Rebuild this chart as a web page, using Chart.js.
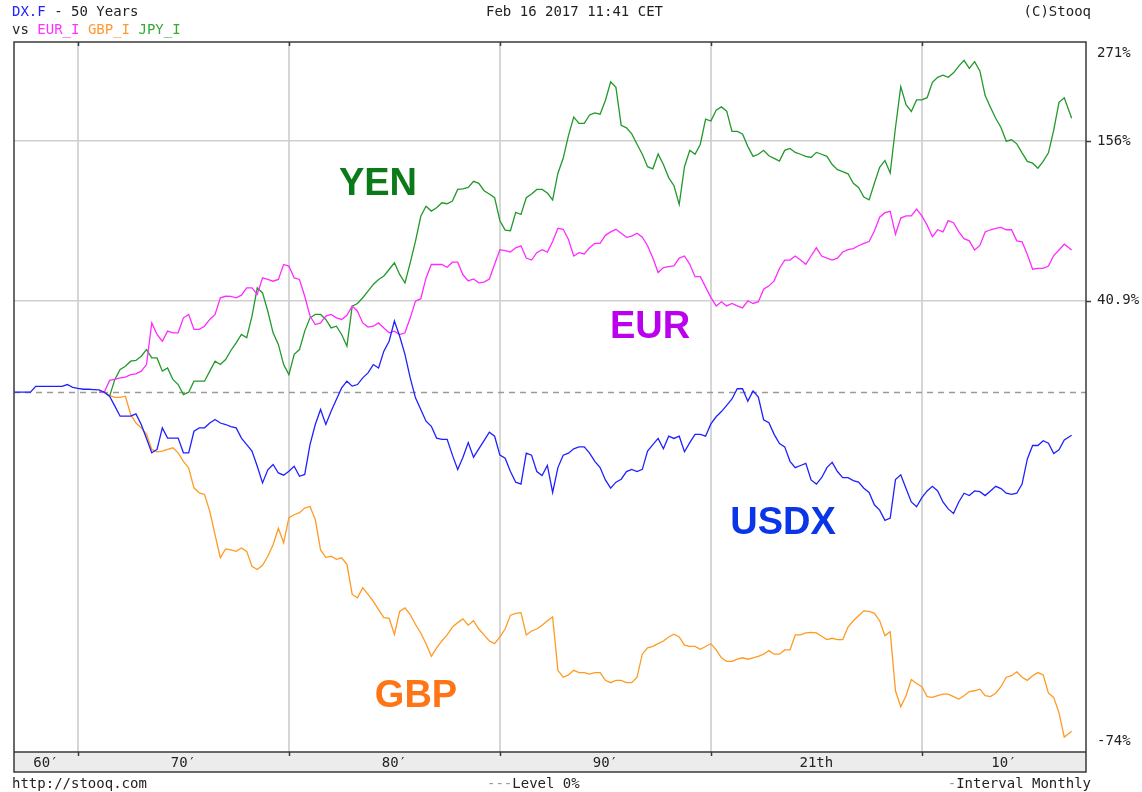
<!DOCTYPE html>
<html>
<head>
<meta charset="utf-8">
<script src="https://cdn.jsdelivr.net/npm/chart.js@4.4.1/dist/chart.umd.min.js"></script>
<style>
  body { margin: 0; background: #fff; }
  #wrap { position: relative; width: 1142px; height: 792px; font-family: "DejaVu Sans Mono", monospace; font-size: 14px; color: #222; }
  canvas { position: absolute; left: 0; top: 0; }
  .t { position: absolute; white-space: pre; line-height: 16px; }
  .big { position: absolute; font-family: "Liberation Sans", Arial, sans-serif; font-weight: bold; font-size: 38px; transform: translate(-50%, -50%); white-space: nowrap; }
</style>
</head>
<body>
<div id="wrap">
  <canvas id="grafico" width="1142" height="792"></canvas>

  <div class="t" style="left:12px;top:3px"><span style="color:#2222ff">DX.F</span> - 50 Years</div>
  <div class="t" style="left:12px;top:21px">vs <span style="color:#ff33ff">EUR_I</span> <span style="color:#ff9933">GBP_I</span> <span style="color:#33aa33">JPY_I</span></div>
  <div class="t" style="left:486px;top:3px">Feb 16 2017 11:41 CET</div>
  <div class="t" style="right:51px;top:3px">(C)Stooq</div>

  <div class="t" style="left:12px;top:775px">http://stooq.com</div>
  <div class="t" style="left:487px;top:775px"><span style="color:#999">---</span>Level 0%</div>
  <div class="t" style="right:51px;top:775px"><span style="color:#999">-</span>Interval Monthly</div>

  <div class="big" style="left:378px;top:182px;color:#0b7a18">YEN</div>
  <div class="big" style="left:650px;top:325px;color:#bb00ee">EUR</div>
  <div class="big" style="left:783px;top:521px;color:#0a36e8">USDX</div>
  <div class="big" style="left:416px;top:694px;color:#ff7415">GBP</div>
</div>

<script>
// datas: trimestres de 1967 a 2016 + ultimo ponto (fev/2017)
let anos = [];
for (let i = 0; i < 200; i++) anos.push(1967 + i / 4);
anos.push(2017.1);

// variacao em % desde o inicio (uma linha = um ano, 4 trimestres)
let usdx = [
  0, 0, 0, 0,
  2.2, 2.2, 2.2, 2.2,
  2.2, 2.2, 2.9, 1.8,
  1.4, 1.1, 1.1, 1.0,
  0.9, 0, -1.5, -5.1,
  -8.6, -8.6, -8.6, -7.8,
  -11.4, -15.9, -20.3, -19.3,
  -12.5, -15.8, -15.8, -15.8,
  -20.3, -20.3, -13.6, -12.5,
  -12.5, -10.9, -9.7, -10.9,
  -11.4, -12.1, -12.5, -15.8,
  -17.8, -19.8, -24.2, -28.8,
  -25.2, -23.7, -26.1, -26.7,
  -25.6, -24.2, -27, -26.5,
  -17.8, -11.4, -6.3, -11.4,
  -6.9, -2.7, 1.6, 4.2,
  2.3, 2.9, 5.5, 7.5,
  10.9, 9.5, 16.6, 21,
  30.5, 23.3, 15.2, 5.5,
  -2.1, -6.3, -10.3, -12,
  -15.8, -16.2, -16.2, -21,
  -25.1, -21.6, -17.2, -21.6,
  -19.1, -16.6, -13.9, -15.2,
  -21, -21.9, -25.7, -28.6,
  -29.1, -20.4, -21, -25.7,
  -26.8, -24.0, -31.3, -24.6,
  -21, -20.4, -19.1, -18.5,
  -18.5, -20.4, -22.8, -24.6,
  -28, -30.2, -28.6, -27.8,
  -25.7, -25.1, -25.7, -25.1,
  -19.8, -17.8, -15.9, -19.1,
  -15.2, -15.9, -15.2, -20,
  -17.2, -14.6, -14.6, -15.2,
  -11.2, -8.8, -7, -4.8,
  -2.5, 1.3, 1.3, -3.3,
  0.5, -1.8, -9.8, -10.8,
  -14.6, -17.5, -18.5, -22.8,
  -24.6, -24, -23.4, -28,
  -29.1, -27.4, -24.6, -23.1,
  -25.7, -27.4, -27.4, -28.2,
  -28.6, -30.2, -31.3, -34.4,
  -35.7, -38.1, -37.6, -27.9,
  -26.6, -30.3, -33.7, -34.9,
  -32.6, -30.9, -29.7, -30.9,
  -33.7, -35.4, -36.5, -33.7,
  -31.5, -32.1, -30.9, -31.1,
  -32.1, -30.9, -29.7, -30.3,
  -31.5, -31.8, -31.5, -29.1,
  -22.1, -18.1, -18.1, -16.6,
  -17.4, -20.5, -19.4, -16.4,
  -14.9,
];

let eur = [
  null, null, null, null,
  null, null, null, null,
  null, null, null, null,
  null, null, null, null,
  0, 0, 4.5, 4.9,
  5.5, 5.8, 6.8, 7.1,
  8.2, 10.9, 29.6, 24.1,
  21, 25.7, 24.9, 24.9,
  32.1, 33.8, 26.5, 26.5,
  28, 31.3, 33.8, 42.4,
  43.2, 43.1, 42.4, 43.8,
  47.8, 47.8, 44.2, 53.4,
  52.5, 51.5, 52.5, 61.3,
  60.3, 53.4, 52.5, 43.2,
  33, 28.8, 29.6, 33,
  33.8, 32.1, 31.3, 33.4,
  38, 35.4, 29.6, 27.6,
  28, 29.6, 27.2, 24.9,
  25.7, 24.1, 24.9, 32.1,
  40.6, 41.9, 53.4, 61.3,
  61.3, 61.3, 59.6, 62.7,
  62.7, 55.2, 51.7, 52.8,
  50.6, 51, 52.8, 61.4,
  70.5, 69.9, 69, 71.7,
  73, 65.2, 64, 68.6,
  70.5, 69, 75.8, 84.7,
  84, 77.1, 66.5, 68.6,
  67.8, 71.7, 74.5, 74.5,
  79.9, 82.2, 84, 81.3,
  78.6, 79.4, 81.3, 78.6,
  73, 65.2, 56.5, 59.4,
  60, 60.4, 65.2, 66.5,
  61.4, 54.1, 54.1, 48.2,
  42.6, 38.1, 40.3, 38.1,
  39.4, 38.1, 37.1, 40.8,
  39.4, 40.3, 47, 48.9,
  51.7, 58.9, 64, 64,
  66.5, 64, 61.4, 66.5,
  71.7, 66.5, 65.2, 64,
  65.2, 69, 70.5, 71.2,
  73, 74.5, 75.8, 82.8,
  92.5, 95.8, 96.8, 80.6,
  91.9, 93.5, 93.5, 98.5,
  93.5, 86.9, 79, 83.7,
  82.2, 90.1, 88.6, 82.2,
  77.7, 76.2, 70.3, 73.2,
  82.2, 83.7, 84.6, 85.3,
  83.7, 83.7, 76.2, 75.6,
  67.4, 58.5, 59, 59,
  60.4, 66.8, 70.3, 74,
  70.3,
];

let gbp = [
  null, null, null, null,
  null, null, null, null,
  null, null, null, null,
  null, null, null, null,
  0, 0, -1.2, -1.9,
  -1.9, -1.5, -8, -10.9,
  -12.5, -14.5, -19.3, -20,
  -19.8, -19.3, -18.8, -20.3,
  -22.8, -24.7, -30.1, -31.4,
  -31.8, -36, -41.4, -46.2,
  -44.4, -44.6, -44.9, -44.2,
  -44.9, -47.9, -48.5, -47.7,
  -45.9, -43.5, -39.9, -43.1,
  -37.5, -36.8, -36.3, -35.2,
  -34.8, -37.9, -44.6, -46.1,
  -45.9, -46.5, -46.2, -47.5,
  -53.1, -53.7, -51.9, -53.1,
  -54.3, -55.7, -57, -57.1,
  -59.6, -56, -55.4, -56.5,
  -58.1, -59.4, -61, -62.8,
  -61.6, -60.6, -59.7, -58.5,
  -57.8, -57.2, -58.2, -57.5,
  -58.8, -59.7, -60.6, -61,
  -60, -58.8, -56.6, -56.3,
  -56.2, -59.7, -59.1, -58.8,
  -58.2, -57.5, -56.9, -64.7,
  -65.6, -65.3, -64.7, -65,
  -65, -65.2, -65, -65,
  -66, -66.3, -66, -66,
  -66.3, -66.3, -65.6, -62.5,
  -61.6, -61.4, -61, -60.6,
  -60, -59.6, -60, -61.2,
  -61.4, -61.4, -61.8, -61.4,
  -61, -61.9, -63, -63.5,
  -63.5, -63.2, -63, -63.2,
  -63, -62.8, -62.5, -62,
  -62.5, -62.5, -61.9, -61.9,
  -59.7, -59.7, -59.4, -59.3,
  -59.4, -59.9, -60.4, -60.2,
  -60.4, -60.4, -58.5, -57.5,
  -56.7, -55.9, -56, -56.3,
  -57.5, -59.8, -59.2, -67.3,
  -69.2, -67.9, -65.9, -66.4,
  -66.8, -68, -68.1, -67.9,
  -67.7, -67.7, -68, -68.3,
  -67.9, -67.4, -67.3, -67.1,
  -67.9, -68, -67.6, -66.8,
  -65.6, -65.4, -64.9, -65.6,
  -66, -65.4, -65, -65.3,
  -67.6, -68.1, -69.9, -72.5,
  -71.9,
];

let jpy = [
  null, null, null, null,
  null, null, null, null,
  null, null, null, null,
  null, null, null, null,
  0, 0, -1.5, 4.9,
  8.9, 10.2, 12.3, 12.6,
  14.4, 17.3, 13.7, 13.7,
  8.2, 9.5, 4.9, 2.9,
  -0.9, 0, 4.2, 4.2,
  4.2, 8.2, 12.3, 10.9,
  13, 16.9, 20.3, 24.1,
  22.6, 32.9, 47.8, 45,
  35.4, 24.9, 19.6, 10.9,
  6.8, 15.2, 17.3, 25.7,
  32.1, 33.8, 33.8, 31.3,
  27.2, 28, 24.1, 18.8,
  38, 39.4, 42.4, 46,
  49.7, 52.5, 54.5, 58.3,
  62.3, 55.4, 50.6, 62.3,
  76, 93.2, 100.6, 97,
  99.4, 103.2, 102.5, 104.5,
  113.6, 114.1, 115.2, 120.2,
  118.6, 112.6, 110, 107.1,
  90, 83.4, 83, 96,
  94.5, 107.1, 110, 113.6,
  113.6, 110.8, 105.4, 127,
  140, 161.3, 180, 173.5,
  173.5, 182.3, 184.5, 183.2,
  198, 219.7, 213, 171.5,
  169, 163, 153, 143.7,
  132.6, 130.8, 144, 134.5,
  123.3, 116.6, 102, 132.6,
  147.3, 143.7, 153, 178,
  176, 187.5, 191, 186.4,
  165.5, 165.5, 163, 151,
  141.8, 143.7, 147.3, 142.3,
  140, 137.6, 147.3, 149.1,
  145.4, 143.7, 141.8, 140.8,
  145.4, 143.7, 141.8, 134.5,
  130, 128.4, 126.5, 118.6,
  115.2, 107.6, 105.4, 118.6,
  132, 138.1, 127.2, 169.4,
  214, 193.4, 186, 198.7,
  198.7, 201.2, 219, 225,
  227.7, 225, 230.6, 239,
  246.3, 236, 244.6, 233,
  203.6, 190.6, 178.8, 169.4,
  156, 157.3, 153.4, 145,
  137.3, 135.7, 131.3, 137.3,
  145, 166.8, 196, 201,
  178.8,
];

// eixos
let decadas = [1970, 1980, 1990, 2000, 2010];
let meioDecadas = [1968.48, 1975, 1985, 1995, 2005, 2013.89];
let rotulosX = ["60\u2032", "70\u2032", "80\u2032", "90\u2032", "21th", "10\u2032"];
let valoresY = [271, 156, 40.9, -74];
let rotulosY = ["271%", "156%", "40.9%", "-74%"];
let linhasY = [156, 40.9];

const anoMin = 1966.97;
const anoMax = 2017.78;

function pontos(serie) {
  return anos.map((a, i) => ({ x: a, y: serie[i] == null ? null : 1 + serie[i] / 100 }));
}

const fonteMono = '14px "DejaVu Sans Mono", monospace';

const moldura = {
  id: "moldura",
  beforeDraw(chart) {
    const { ctx, chartArea: a } = chart;
    ctx.save();
    ctx.fillStyle = "#ececec";
    ctx.fillRect(a.left, a.bottom, a.right - a.left, 20);
    ctx.restore();
  },
  beforeDatasetsDraw(chart) {
    const { ctx, chartArea: a, scales } = chart;
    const y0 = Math.round(scales.y.getPixelForValue(1)) + 0.5;
    ctx.save();
    ctx.strokeStyle = "#9a9a9a";
    ctx.lineWidth = 1.5;
    ctx.setLineDash([6, 5]);
    ctx.beginPath();
    ctx.moveTo(a.left, y0);
    ctx.lineTo(a.right, y0);
    ctx.stroke();
    ctx.restore();
  },
  afterDraw(chart) {
    const { ctx, chartArea: a, scales } = chart;
    ctx.save();
    ctx.strokeStyle = "#3a3a3a";
    ctx.lineWidth = 1.5;
    ctx.strokeRect(a.left, a.top, a.right - a.left, a.bottom + 20 - a.top);
    ctx.beginPath();
    ctx.moveTo(a.left, a.bottom);
    ctx.lineTo(a.right, a.bottom);
    // marcas das decadas
    decadas.forEach((d) => {
      const px = Math.round(scales.x.getPixelForValue(d)) + 0.5;
      ctx.moveTo(px, a.bottom);
      ctx.lineTo(px, a.bottom + 4);
      ctx.moveTo(px, a.top);
      ctx.lineTo(px, a.top + 4);
    });
    // marcas do eixo y
    linhasY.forEach((v) => {
      const py = Math.round(scales.y.getPixelForValue(1 + v / 100)) + 0.5;
      ctx.moveTo(a.right, py);
      ctx.lineTo(a.right + 5, py);
    });
    ctx.stroke();

    ctx.font = fonteMono;
    ctx.fillStyle = "#222";
    ctx.textBaseline = "middle";
    ctx.textAlign = "left";
    valoresY.forEach((v, i) => {
      let py = scales.y.getPixelForValue(1 + v / 100);
      py = Math.min(Math.max(py, a.top + 11), a.bottom - 11);
      ctx.fillText(rotulosY[i], a.right + 11, py);
    });
    ctx.restore();
  },
};

const serieBase = { pointRadius: 0, borderWidth: 1.3, tension: 0, spanGaps: false, xAxisID: "x", yAxisID: "y" };

new Chart(document.getElementById("grafico"), {
  type: "line",
  data: {
    datasets: [
      { ...serieBase, label: "DX.F", data: pontos(usdx), borderColor: "#2020ff" },
      { ...serieBase, label: "EUR_I", data: pontos(eur), borderColor: "#ff2bff" },
      { ...serieBase, label: "GBP_I", data: pontos(gbp), borderColor: "#ff9a22" },
      { ...serieBase, label: "JPY_I", data: pontos(jpy), borderColor: "#22992a" },
    ],
  },
  options: {
    responsive: false,
    animation: false,
    layout: { padding: { left: 14, top: 42, right: 0, bottom: 20 } },
    plugins: { legend: { display: false }, tooltip: { enabled: false } },
    scales: {
      x: {
        type: "linear",
        position: "bottom",
        min: anoMin,
        max: anoMax,
        afterBuildTicks: (s) => { s.ticks = decadas.map((d) => ({ value: d })); },
        afterFit: (s) => { s.height = 0; },
        ticks: { display: false },
        grid: { color: "#d6d6d6", lineWidth: 2, drawTicks: false },
        border: { display: false },
      },
      xl: {
        type: "linear",
        position: "bottom",
        min: anoMin,
        max: anoMax,
        afterBuildTicks: (s) => { s.ticks = meioDecadas.map((d) => ({ value: d })); },
        afterFit: (s) => { s.height = 20; },
        ticks: {
          autoSkip: false,
          maxRotation: 0,
          padding: 3,
          color: "#222",
          font: { family: "DejaVu Sans Mono", size: 14 },
          callback: (v, i) => rotulosX[i],
        },
        grid: { display: false, drawTicks: false },
        border: { display: false },
      },
      y: {
        type: "logarithmic",
        position: "right",
        min: 0.26,
        max: 3.71,
        afterBuildTicks: (s) => { s.ticks = linhasY.map((v) => ({ value: 1 + v / 100 })); },
        afterFit: (s) => { s.width = 56; },
        ticks: { display: false },
        grid: { color: "#cfcfcf", lineWidth: 1.5, drawTicks: false },
        border: { display: false },
      },
    },
  },
  plugins: [moldura],
});
</script>
</body>
</html>
